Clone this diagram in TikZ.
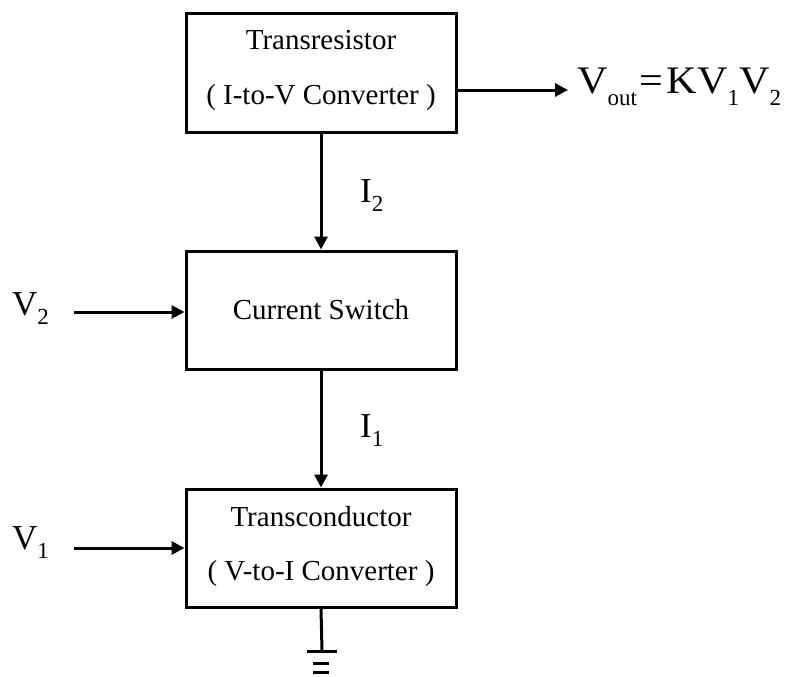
\documentclass[tikz,border=0pt]{standalone}
\usepackage{fontspec}
\setmainfont{Liberation Serif}
\usetikzlibrary{arrows.meta}
\newcommand{\mysub}[1]{\raisebox{-0.28em}{\fontsize{23}{23}\selectfont #1}}
\newcommand{\myosub}[1]{\raisebox{-0.33em}{\fontsize{23}{23}\selectfont #1}}
\newcommand{\wide}[1]{\scalebox{1.08}[1]{#1}}
\begin{document}
\begin{tikzpicture}[x=1pt,y=-1pt,
  blk/.style={draw,line width=3pt,minimum width=270pt,minimum height=118pt,inner sep=0pt},
  btxt/.style={font=\fontsize{29}{29}\selectfont,inner sep=0pt},
  lbl/.style={font=\fontsize{35}{35}\selectfont,inner sep=0pt,anchor=base west},
  olbl/.style={font=\fontsize{39}{39}\selectfont,inner sep=0pt,anchor=base west},
  conn/.style={line width=3pt,-{Triangle[length=13pt,width=13pt]}},
  gnd/.style={line width=3pt}]
\useasboundingbox (0,0) rectangle (787,677);
% boxes
\node[blk] (top) at (321,73) {};
\node[blk] (mid) at (321,310) {};
\node[blk] (bot) at (321,548) {};
% box texts
\node[btxt] (t1) at (321,40) {Transresistor};
\node[btxt] (t2) at (321,98) {( I-to-V Converter )};
\node[btxt] (m1) at (321,310) {Current Switch};
\node[btxt] (b1) at (321,517) {Transconductor};
\node[btxt] (b2) at (321,574) {( V-to-I Converter )};
% labels
\node[lbl] (v2) at (12,315) {V\mysub{2}};
\node[lbl] (v1) at (12,549) {V\mysub{1}};
\node[lbl] (i2) at (360,202) {I\mysub{2}};
\node[lbl] (i1) at (360,437) {I\mysub{1}};
\node[olbl] (vout) at (577,93) {\wide{V}\myosub{out}\kern2pt\wide{=}\kern4pt\wide{K}\wide{V}\myosub{1}\wide{V}\myosub{2}};
% coordinates
\coordinate (v2s) at (74,312);
\coordinate (v1s) at (74,548);
\coordinate (g1) at (322,651);
% connectors
\draw[conn] (top.south) -- (mid.north);
\draw[conn] (mid.south) -- (bot.north);
\draw[conn] (v2s) -- (v2s -| mid.west);
\draw[conn] (v1s) -- (v1s -| bot.west);
\draw[conn] (top.east |- 0,90) -- (568,90);
% ground
\draw[gnd] (bot.south) -- (g1);
\draw[gnd] ([xshift=-15pt]g1) -- ([xshift=15pt]g1);
\draw[gnd] ([xshift=-9pt,yshift=-12pt]g1) -- ([xshift=7pt,yshift=-12pt]g1);
\draw[gnd] ([xshift=-9pt,yshift=-21pt]g1) -- ([xshift=7pt,yshift=-21pt]g1);
\end{tikzpicture}
\end{document}
